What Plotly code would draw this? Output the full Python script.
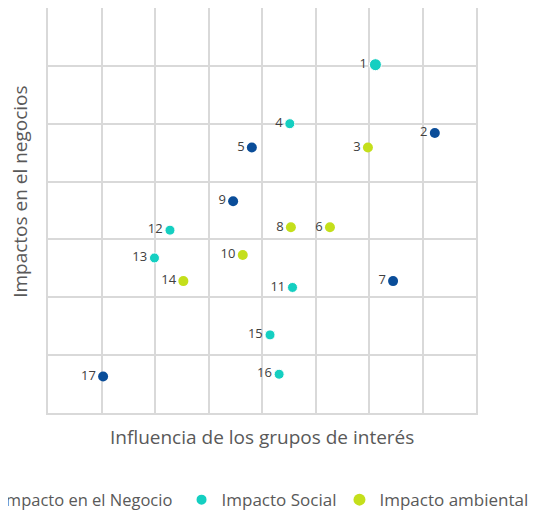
import plotly.graph_objects as go

# Data
neg_labels = ["2", "5", "9", "7", "17"]
neg_x = [7.23, 3.81, 3.46, 6.45, 1.03]
neg_y = [4.84, 4.59, 3.66, 2.28, 0.63]

soc_labels = ["1", "4", "12", "13", "11", "15", "16"]
soc_x = [6.12, 4.52, 2.28, 1.99, 4.57, 4.15, 4.32]
soc_y = [6.02, 5.00, 3.16, 2.68, 2.17, 1.35, 0.67]
soc_size = [12, 10, 10, 10, 10, 10, 10]

amb_labels = ["3", "8", "6", "10", "14"]
amb_x = [5.98, 4.54, 5.27, 3.64, 2.53]
amb_y = [4.59, 3.21, 3.21, 2.73, 2.28]

series_names = ["Impacto en el Negocio", "Impacto Social", "Impacto ambiental"]
colors = ["#0A4D99", "#14CFC1", "#C4DF1B"]

FONT = "Open Sans"
label_font = dict(family=FONT, size=13, color="#404040")

fig = go.Figure()
fig.add_trace(go.Scatter(x=neg_x, y=neg_y, text=neg_labels, mode="markers+text",
                         textposition="middle left", textfont=label_font,
                         marker=dict(size=10, color=colors[0], opacity=1), name=series_names[0],
                         legend="legend"))
fig.add_trace(go.Scatter(x=soc_x, y=soc_y, text=soc_labels, mode="markers+text",
                         textposition="middle left", textfont=label_font,
                         marker=dict(size=soc_size, color=colors[1], opacity=1), name=series_names[1],
                         legend="legend2"))
fig.add_trace(go.Scatter(x=amb_x, y=amb_y, text=amb_labels, mode="markers+text",
                         textposition="middle left", textfont=label_font,
                         marker=dict(size=10, color=colors[2], opacity=1), name=series_names[2],
                         legend="legend3"))

grid = "#D9D9D9"
fig.update_xaxes(range=[0, 8], dtick=1, showticklabels=False, showgrid=True, gridcolor=grid,
                 gridwidth=1.5, zeroline=False, showline=True, mirror=True, linecolor=grid,
                 linewidth=1.5, ticks="")
fig.update_yaxes(range=[0, 7], dtick=1, showticklabels=False, showgrid=True, gridcolor=grid,
                 gridwidth=1.5, zeroline=False, showline=True, mirror=True, linecolor=grid,
                 linewidth=1.5, ticks="")

fig.add_annotation(text="Influencia de los grupos de interés", xref="paper", yref="paper",
                   x=0.5, y=0, yshift=-24, xanchor="center", yanchor="middle", showarrow=False,
                   font=dict(family=FONT, size=19, color="#595959"))
fig.add_annotation(text="Impactos en el negocios", xref="paper", yref="paper",
                   x=0, xshift=-28, y=0.546, xanchor="center", yanchor="middle", showarrow=False,
                   textangle=-90, font=dict(family=FONT, size=19, color="#595959"))

leg_font = dict(family=FONT, size=17, color="#595959")
leg_common = dict(orientation="h", xanchor="left", y=-0.215, yanchor="middle",
                  itemsizing="constant", bgcolor="rgba(0,0,0,0)")

fig.update_layout(
    width=536, height=519,
    margin=dict(l=40, r=68, t=0, b=114, autoexpand=False),
    paper_bgcolor="white", plot_bgcolor="white",
    showlegend=True,
    legend=dict(x=-0.2027, font=dict(family=FONT, size=16.5, color="#595959"), **leg_common),
    legend2=dict(x=0.312, font=leg_font, **leg_common),
    legend3=dict(x=0.681, font=leg_font, **leg_common),
    font=dict(family=FONT),
)

fig.write_html("out.html")
